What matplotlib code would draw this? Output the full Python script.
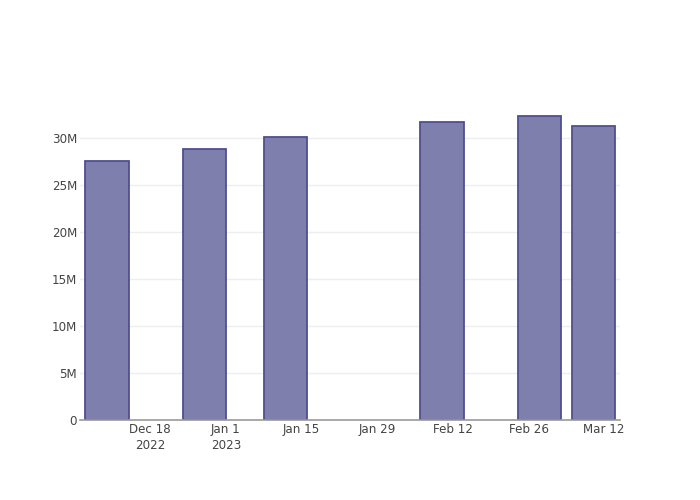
import datetime as dt
import matplotlib.pyplot as plt
import matplotlib.dates as mdates

# weekly-ish totals
dates = ["2022-12-10", "2022-12-28", "2023-01-12", "2023-02-10", "2023-02-28", "2023-03-10"]
values = [27.5e6, 28.76e6, 30.07e6, 31.66e6, 32.3e6, 31.27e6]

tick_dates = ["2022-12-18", "2023-01-01", "2023-01-15", "2023-01-29", "2023-02-12", "2023-02-26", "2023-03-12"]
tick_labels = ["Dec 18\n2022", "Jan 1\n2023", "Jan 15", "Jan 29", "Feb 12", "Feb 26", "Mar 12"]
y_ticks = [0, 5e6, 10e6, 15e6, 20e6, 25e6, 30e6]
y_labels = ["0", "5M", "10M", "15M", "20M", "25M", "30M"]

to_date = lambda s: dt.datetime.strptime(s, "%Y-%m-%d")
x = [to_date(d) for d in dates]

plt.rcParams['font.family'] = ['DejaVu Sans']

fig = plt.figure(figsize=(7, 5), dpi=100)
ax = fig.add_axes([80 / 700, 80 / 500, 540 / 700, 320 / 500])

ax.bar(x, values, width=8, color='#7f7fae', edgecolor='#4f4f90', linewidth=1.3, zorder=3)

ax.set_xlim(to_date("2022-12-05"), to_date("2023-03-14") + dt.timedelta(hours=22))
ax.set_ylim(0, 34.0e6)

ax.set_xticks([to_date(d) for d in tick_dates])
ax.set_xticklabels(tick_labels, fontsize=8.6, color='#444444', linespacing=1.3)
ax.set_yticks(y_ticks)
ax.set_yticklabels(y_labels, fontsize=8.6, color='#444444')
ax.tick_params(axis='both', length=0)
ax.tick_params(axis='x', pad=2.5)
ax.tick_params(axis='y', pad=2)

for s in ['top', 'right', 'left']:
    ax.spines[s].set_visible(False)
ax.spines['bottom'].set_color('#999999')
ax.spines['bottom'].set_linewidth(1.2)
ax.spines['bottom'].set_zorder(4)

for yv in y_ticks[1:]:
    ax.axhline(yv, color='#eeeeee', linewidth=1, zorder=1)

fig.savefig("out.png", dpi=100)
